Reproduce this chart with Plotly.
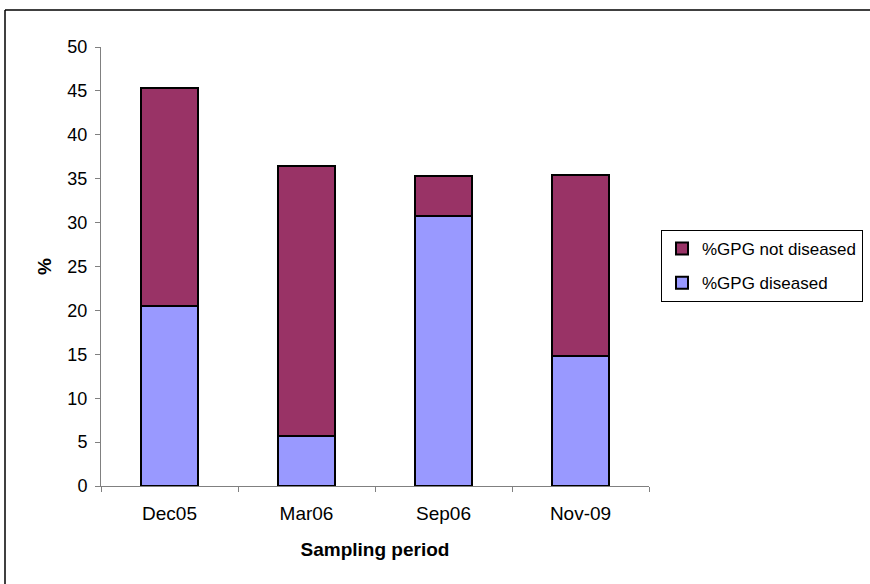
import plotly.graph_objects as go

periods = ["Dec05", "Mar06", "Sep06", "Nov-09"]
diseased = [20.5, 5.7, 30.75, 14.75]
total = [45.3, 36.5, 35.3, 35.45]
not_diseased = [round(t - d, 2) for t, d in zip(total, diseased)]
y_ticks = [0, 5, 10, 15, 20, 25, 30, 35, 40, 45, 50]

L, R, T, B = 101, 221, 47, 98
W, H = 870, 584
pw, ph = W - L - R, H - T - B

def px(x):
    return (x - L) / pw

def py(y):
    return (H - B - y) / ph

fig = go.Figure()
fig.add_trace(go.Bar(x=periods, y=diseased, name="%GPG diseased", legendgroup="a", legendrank=2,
                     marker=dict(color="#9999FF", line=dict(color="black", width=2)),
                     width=0.41))
fig.add_trace(go.Bar(x=periods, y=not_diseased, name="%GPG not diseased", legendgroup="b", legendrank=1,
                     marker=dict(color="#993366", line=dict(color="black", width=2)),
                     width=0.41))

font = "Liberation Sans, Arial, sans-serif"
fig.update_layout(
    barmode="stack",
    width=W, height=H,
    margin=dict(l=L, r=R, t=T, b=B, autoexpand=False),
    paper_bgcolor="white", plot_bgcolor="white",
    font=dict(family=font, size=18, color="black"),
    showlegend=True,
    legend=dict(x=px(661), y=py(230), xanchor="left", yanchor="top",
                traceorder="grouped", bordercolor="black", borderwidth=1,
                font=dict(size=17), itemwidth=30,
                tracegroupgap=9, bgcolor="white"),
    xaxis=dict(showline=True, linecolor="#808080", linewidth=1,
               ticks="outside", tickson="boundaries", ticklen=5, tickcolor="#808080",
               tickfont=dict(size=19), ticklabelstandoff=10,
               title=dict(text="<b>Sampling period</b>", font=dict(size=19), standoff=19)),
    yaxis=dict(range=[0, 50], tickvals=y_ticks, showline=True, linecolor="#808080",
               linewidth=1, ticks="outside", ticklen=5, tickcolor="#808080",
               showgrid=False, zeroline=False, tickfont=dict(size=18), ticklabelstandoff=4,
               title=dict(text="<b>%</b>", font=dict(size=19), standoff=10)),
    shapes=[
        dict(type="line", xref="paper", yref="paper", x0=px(5), x1=px(5), y0=py(10), y1=py(600),
             line=dict(color="black", width=1.5)),
        dict(type="line", xref="paper", yref="paper", x0=px(5), x1=px(880), y0=py(10), y1=py(10),
             line=dict(color="black", width=1.5)),
    ],
)
fig.write_html("out.html", config={"displayModeBar": False},
               post_script="document.body.style.margin='0px';document.body.style.overflow='hidden';")
